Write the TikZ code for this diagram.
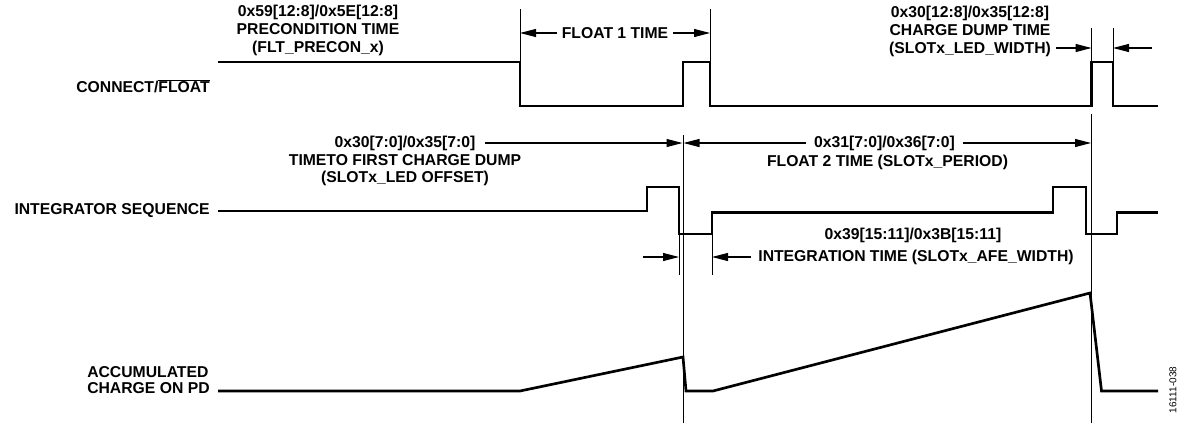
\documentclass[tikz,border=0pt]{standalone}
\usepackage{fontspec}
\setmainfont{Liberation Sans}
\usetikzlibrary{arrows.meta}
\begin{document}
\begin{tikzpicture}[x=0.75pt,y=-0.75pt,
  sig/.style={line width=2pt, line join=miter},
  thinline/.style={line width=0.7pt},
  dim/.style={line width=0.8pt, -{Triangle[length=12pt,width=6pt]}},
  lbl/.style={font=\fontsize{11.8}{13.2}\selectfont\bfseries, inner sep=0pt, align=center},
]
\useasboundingbox (0,0) rectangle (1177,425);

% ---------- side labels ----------
\node[lbl, anchor=east] (conn) at (210,86) {CONNECT/$\overline{\mbox{FLOAT}}$};
\node[lbl, anchor=east] (integ) at (210,211) {INTEGRATOR SEQUENCE};
\node[lbl, anchor=west] (accum1) at (87,372) {ACCUMULATED};
\node[lbl, anchor=west] (accum2) at (87,388) {CHARGE ON PD};

% ---------- signals ----------
\draw[sig] (218,62) -- (520,62) -- (520,106) -- (683,106) -- (683,62) -- (710,62)
  -- (710,106) -- (1091.5,106) -- (1091.5,62) -- (1113,62) -- (1113,106) -- (1158,106);
\draw[sig] (218,211) -- (647,211) -- (647,187) -- (679,187) -- (679,234) -- (712,234)
  -- (712,212.5) -- (1053,212.5) -- (1053,187) -- (1086,187) -- (1086,234) -- (1117,234)
  -- (1117,212.5) -- (1158,212.5);
\draw[sig] (218,391) -- (520,391) -- (683,357) -- (686,391) -- (713,391) -- (1090,293)
  -- (1101.5,391) -- (1158,391);

% ---------- extension lines ----------
\draw[thinline] (520,9) -- (520,62);
\draw[thinline] (710,9) -- (710,62);
\draw[thinline] (1091.5,28) -- (1091.5,62);
\draw[thinline] (1113,28) -- (1113,62);
\draw[thinline] (683,135) -- (683,423);
\draw[thinline] (1091,114) -- (1091,423);
\draw[thinline] (679,234) -- (679,275);
\draw[thinline] (712,234) -- (712,275);

% ---------- top texts and dimensions ----------
\node[lbl] (precon) at (318,30.5) {0x59[12:8]/0x5E[12:8]\\PRECONDITION TIME\\(FLT\_PRECON\_x)};

\node[lbl] (float1) at (615,33) {FLOAT 1 TIME};
\coordinate (f1l) at (520,33);
\coordinate (f1r) at (710,33);
\draw[dim] ([xshift=-3.5pt]float1.west) -- (f1l);
\draw[dim] ([xshift=3.5pt]float1.east) -- (f1r);

\node[lbl] (cdump) at (970,31.5) {0x30[12:8]/0x35[12:8]\\CHARGE DUMP TIME\\(SLOTx\_LED\_WIDTH)};
\coordinate (cdl0) at (1056,48);
\coordinate (cdl) at (1091.5,48);
\coordinate (cdr0) at (1152,48);
\coordinate (cdr) at (1113,48);
\draw[dim] (cdl0) -- (cdl);
\draw[dim] (cdr0) -- (cdr);

% ---------- middle texts and dimensions ----------
\node[lbl] (offs) at (405,161) {0x30[7:0]/0x35[7:0]\\TIMETO FIRST CHARGE DUMP\\(SLOTx\_LED OFFSET)};
\coordinate (o0) at (485,143);
\coordinate (o1) at (682.5,143);
\draw[dim] (o0) -- (o1);

\node[lbl] (per1) at (884.5,143) {0x31[7:0]/0x36[7:0]};
\node[lbl] (per2) at (887.5,162) {FLOAT 2 TIME (SLOTx\_PERIOD)};
\coordinate (p0) at (683.5,143);
\coordinate (p1) at (1091,143);
\draw[dim] ([xshift=-6pt]per1.west) -- (p0);
\draw[dim] ([xshift=6pt]per1.east) -- (p1);

\node[lbl] (afe1) at (913,235) {0x39[15:11]/0x3B[15:11]};
\node[lbl] (afe2) at (916,257) {INTEGRATION TIME (SLOTx\_AFE\_WIDTH)};
\coordinate (a0) at (712,257);
\coordinate (a1) at (643,257);
\coordinate (a2) at (679,257);
\draw[dim] ([xshift=-5pt]afe2.west) -- (a0);
\draw[dim] (a1) -- (a2);

% ---------- figure id ----------
\node[font=\fontsize{7.5}{9}\selectfont, rotate=90, inner sep=0pt] (figid) at (1173,390) {16111-038};
\end{tikzpicture}
\end{document}
